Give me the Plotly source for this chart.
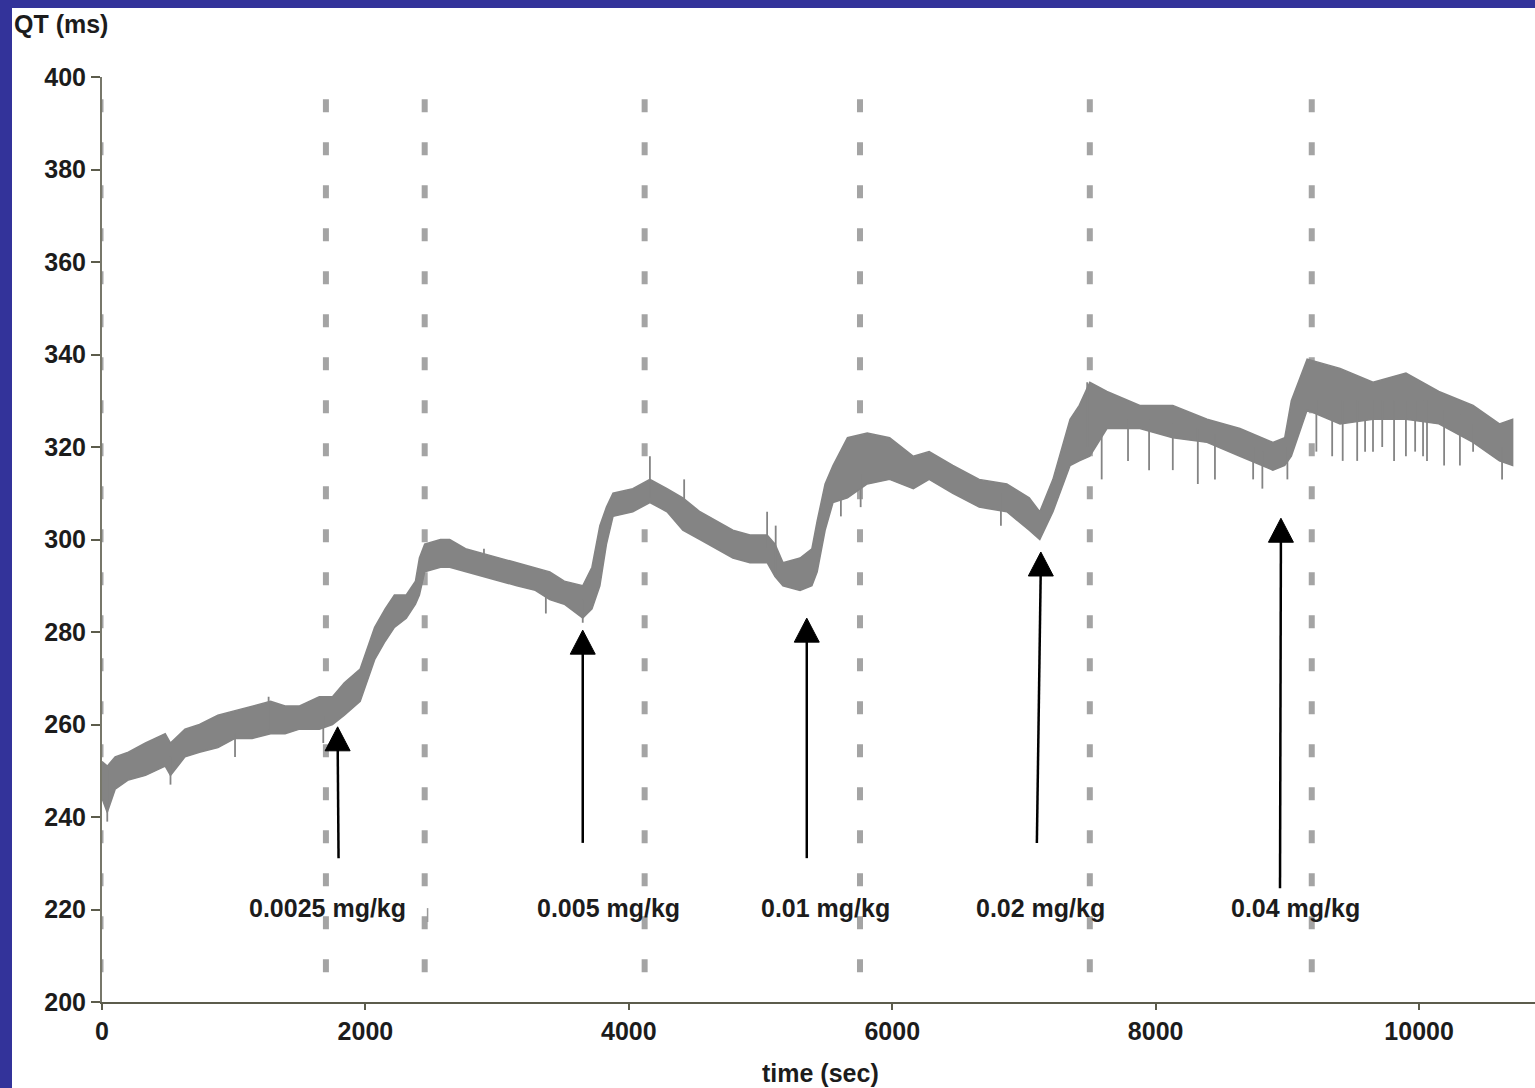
import plotly.graph_objects as go

# ---------------- data ----------------
time_s = [0, 40, 100, 200, 330, 480, 520, 630, 740, 880, 1010, 1140, 1280, 1390, 1500, 1650, 1750, 1840, 1960, 2070,
          2150, 2220, 2310, 2380, 2410, 2450, 2570, 2640, 2760, 2890, 3020, 3150, 3290, 3400, 3510, 3650, 3720, 3780, 3830, 3880,
          4030, 4160, 4290, 4410, 4540, 4670, 4790, 4920, 5050, 5110, 5170, 5300, 5390, 5430, 5490, 5550, 5660, 5810, 5980, 6160,
          6280, 6460, 6660, 6870, 7040, 7120, 7220, 7350, 7420, 7500, 7630, 7880, 8130, 8390, 8640, 8890, 8980, 9030, 9150, 9400,
          9650, 9900, 10150, 10410, 10610, 10710]
qt_upper = [252, 251, 253, 254, 256, 258, 256, 259, 260, 262, 263, 264, 265, 264, 264, 266, 266, 269, 272, 281,
            285, 288, 288, 291, 296, 299, 300, 300, 298, 297, 296, 295, 294, 293, 291, 290, 294, 303, 307, 310,
            311, 313, 311, 309, 306, 304, 302, 301, 301, 299, 295, 296, 298, 304, 312, 316, 322, 323, 322, 318,
            319, 316, 313, 312, 309, 306, 313, 326, 329, 334, 332, 329, 329, 326, 324, 321, 322, 330, 339, 337,
            334, 336, 332, 329, 325, 326]
qt_lower = [244, 241, 246, 248, 249, 251, 249, 253, 254, 255, 257, 257, 258, 258, 259, 259, 260, 262, 265, 274,
            278, 281, 283, 286, 288, 293, 294, 294, 293, 292, 291, 290, 289, 287, 286, 283, 285, 290, 299, 305,
            306, 308, 306, 302, 300, 298, 296, 295, 295, 292, 290, 289, 290, 293, 302, 308, 309, 312, 313, 311,
            313, 310, 307, 306, 302, 300, 306, 316, 317, 318, 324, 324, 322, 321, 318, 315, 316, 318, 328, 325,
            326, 326, 325, 321, 317, 316]

# individual beat spikes (time, low, high)
spike_t = [40, 520, 1010, 1265, 1680, 2900, 3370, 3650, 4160, 4420, 5050, 5115, 5610, 5760, 6825, 7480,
           7590, 7790, 7950, 8130, 8320, 8450, 8740, 8810, 9000, 9220, 9340, 9420, 9530, 9590, 9650, 9720,
           9810, 9900, 9970, 10030, 10060, 10190, 10310, 10410, 10630]
spike_lo = [239, 247, 253, 259, 256, 292, 284, 282, 309, 306, 298, 292, 305, 307, 303, 320,
            313, 317, 315, 315, 312, 313, 313, 311, 313, 319, 318, 317, 317, 319, 319, 320,
            317, 318, 319, 318, 317, 316, 316, 319, 313]
spike_hi = [250, 253, 258, 266, 262, 298, 289, 287, 318, 313, 306, 303, 312, 314, 310, 334,
            326, 326, 326, 325, 324, 323, 320, 319, 320, 330, 330, 330, 330, 330, 330, 330,
            330, 330, 330, 330, 330, 328, 327, 325, 320]

# vertical dashed period markers (sec)
period_marks = [0, 1700, 2450, 4120, 5755, 7500, 9185]

# dose arrows: tip and tail positions
dose_labels = ["0.0025 mg/kg", "0.005 mg/kg", "0.01 mg/kg", "0.02 mg/kg", "0.04 mg/kg"]
label_t = [1713, 3847, 5495, 7128, 9058]
label_qt = 220.3
arrow_tip_t = [1789, 3650, 5351, 7128, 8951]
arrow_tip_qt = [259.5, 280.4, 283.0, 297.3, 304.6]
arrow_tail_t = [1796, 3650, 5351, 7098, 8944]
arrow_tail_qt = [231.1, 234.4, 231.1, 234.4, 224.6]

y_ticks = [200, 220, 240, 260, 280, 300, 320, 340, 360, 380, 400]
x_ticks = [0, 2000, 4000, 6000, 8000, 10000]

# ---------------- layout constants ----------------
W, H = 1535, 1088
ML, MR, MT, MB = 102, 0, 77, 86
PW, PH = W - ML - MR, H - MT - MB
XR = [0, 10880]
YR = [200, 400]
px_per_x = PW / (XR[1] - XR[0])
px_per_y = PH / (YR[1] - YR[0])

FONT = "Liberation Sans, Arial, Helvetica, sans-serif"
INK = "#1c1c1c"
TRACE = "#848484"
DASH = "#a4a4a4"
BORDER = "#33339a"

fig = go.Figure()

# envelope band of the QT trace
fig.add_trace(go.Scatter(
    x=time_s + time_s[::-1], y=qt_upper + qt_lower[::-1],
    mode="lines", fill="toself", fillcolor=TRACE,
    line=dict(color=TRACE, width=1.5), hoverinfo="skip", showlegend=False))

# spikes
sx, sy = [], []
for t, lo, hi in zip(spike_t, spike_lo, spike_hi):
    sx += [t, t, None]
    sy += [lo, hi, None]
fig.add_trace(go.Scatter(x=sx, y=sy, mode="lines", line=dict(color=TRACE, width=1.8),
                         hoverinfo="skip", showlegend=False))

shapes = []
# dashed vertical lines
for i, t in enumerate(period_marks):
    shapes.append(dict(type="line", xref="x", yref="y", x0=t, x1=t, y0=395.2, y1=200,
                       line=dict(color=DASH, width=3 if i == 0 else 6, dash="13px,30px"), layer="below"))

# small stray tick near x=2470
shapes.append(dict(type="line", xref="x", yref="y", x0=2472, x1=2472, y0=217.3, y1=220.3,
                   line=dict(color="#9a9a9a", width=1.5)))

# arrows (shaft + triangular head)
head_w_px, head_h_px = 25, 24
hw = head_w_px / 2 / px_per_x
hh = head_h_px / px_per_y
for tt, tq, at, aq in zip(arrow_tip_t, arrow_tip_qt, arrow_tail_t, arrow_tail_qt):
    shapes.append(dict(type="line", xref="x", yref="y", x0=at, y0=aq, x1=tt, y1=tq - hh * 0.5,
                       line=dict(color="black", width=2.5)))
    shapes.append(dict(type="path", xref="x", yref="y",
                       path=f"M {tt},{tq} L {tt - hw},{tq - hh} L {tt + hw},{tq - hh} Z",
                       fillcolor="black", line=dict(color="black", width=1)))

# blue frame (left and top strips)
def px_to_paper_x(px):
    return (px - ML) / PW

def px_to_paper_y(py):
    return (H - MB - py) / PH

shapes.append(dict(type="rect", xref="paper", yref="paper",
                   x0=px_to_paper_x(-5), x1=px_to_paper_x(12), y0=px_to_paper_y(H + 5), y1=px_to_paper_y(-5),
                   fillcolor=BORDER, line=dict(width=0), layer="above"))
shapes.append(dict(type="rect", xref="paper", yref="paper",
                   x0=px_to_paper_x(-5), x1=px_to_paper_x(W + 5), y0=px_to_paper_y(8), y1=px_to_paper_y(-5),
                   fillcolor=BORDER, line=dict(width=0), layer="above"))

annotations = []
for lab, lt in zip(dose_labels, label_t):
    annotations.append(dict(x=lt, y=label_qt, xref="x", yref="y", text=lab, showarrow=False,
                            xanchor="center", yanchor="middle",
                            font=dict(family=FONT, size=25, color=INK, weight=700)))
annotations.append(dict(x=px_to_paper_x(12), y=px_to_paper_y(24), xref="paper", yref="paper",
                        text="QT (ms)", showarrow=False, xanchor="left", yanchor="middle",
                        font=dict(family=FONT, size=25, color=INK, weight=700)))
annotations.append(dict(x=px_to_paper_x(820), y=px_to_paper_y(1073), xref="paper", yref="paper",
                        text="time (sec)", showarrow=False, xanchor="center", yanchor="middle",
                        font=dict(family=FONT, size=25, color=INK, weight=700)))

fig.update_layout(
    width=W, height=H,
    margin=dict(l=ML, r=MR, t=MT, b=MB, pad=0),
    paper_bgcolor="white", plot_bgcolor="white",
    shapes=shapes, annotations=annotations,
    showlegend=False, hovermode=False,
    xaxis=dict(range=XR, tickvals=x_ticks, ticktext=[str(v) for v in x_ticks],
               showgrid=False, zeroline=False, showline=True, linecolor="#5c5c4c", linewidth=2,
               ticks="outside", ticklen=6, tickwidth=1.5, tickcolor="#5c5c4c",
               tickfont=dict(family=FONT, size=25, color=INK, weight=700)),
    yaxis=dict(range=YR, tickvals=y_ticks, ticktext=[str(v) for v in y_ticks],
               showgrid=False, zeroline=False, showline=True, linecolor="#77776a", linewidth=2,
               ticks="outside", ticklen=9, tickwidth=2, tickcolor="#5c5c4c",
               tickfont=dict(family=FONT, size=25, color=INK, weight=700)),
)

fig.write_html("out.html", config={"displayModeBar": False})
